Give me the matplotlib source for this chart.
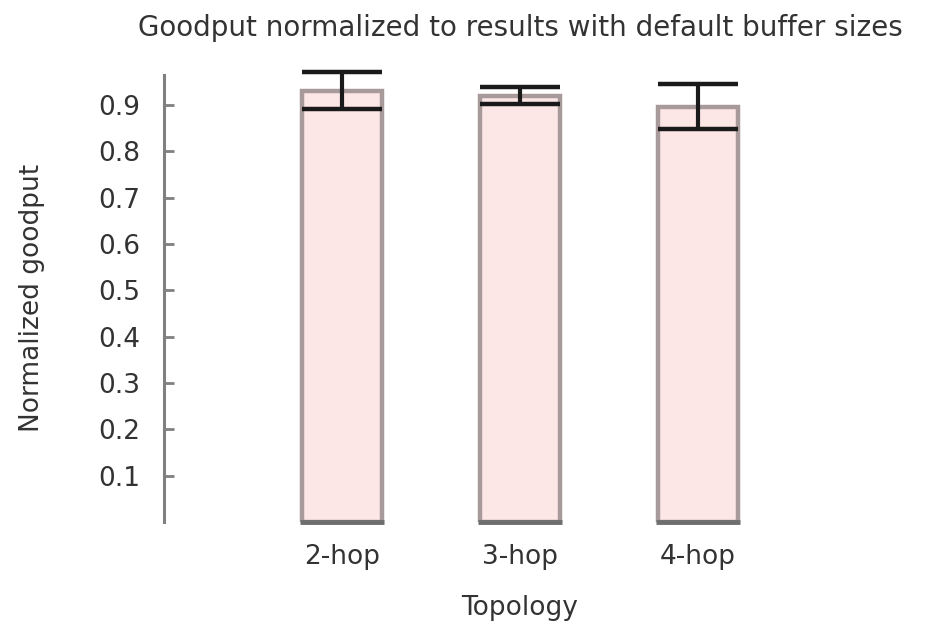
import matplotlib
matplotlib.use("Agg")
import matplotlib.pyplot as plt
import numpy as np

categories = ["2-hop", "3-hop", "4-hop"]
values = [0.931, 0.920, 0.896]
errors = [0.039, 0.019, 0.049]
yticks = [0.1, 0.2, 0.3, 0.4, 0.5, 0.6, 0.7, 0.8, 0.9]

fig = plt.figure(figsize=(9.26, 6.23), dpi=100)
ax = fig.add_axes([0.177, 0.162, 0.769, 0.718])

x = np.arange(len(categories))
w = 0.45
ax.bar(x, values, width=w, color="#fde6e6", edgecolor="#a89a9a", linewidth=3.2, zorder=2)
ax.hlines([0] * len(x), x - w / 2 - 0.01, x + w / 2 + 0.01, color="#6e6e6e", linewidth=3.5,
          zorder=3, clip_on=False)
eb = ax.errorbar(x, values, yerr=errors, fmt="none", ecolor="#1a1a1a", elinewidth=3,
                 capsize=29, capthick=3.2, zorder=4)
for child in eb.get_children():
    child.set_clip_on(False)

ax.set_xlim(-1, 3)
ax.set_ylim(0, 0.965)
ax.set_yticks(yticks)
ax.set_yticklabels([f"{v:.1f}" for v in yticks], fontsize=19, color="#333333")
ax.set_xticks(x)
ax.set_xticklabels(categories, fontsize=19, color="#333333")
ax.tick_params(axis="y", direction="in", length=7, width=2, color="#808080", pad=17)
ax.tick_params(axis="x", length=0, pad=16)

for s in ["top", "right", "bottom"]:
    ax.spines[s].set_visible(False)
ax.spines["left"].set_color("#808080")
ax.spines["left"].set_linewidth(2.2)

ax.set_ylabel("Normalized goodput", fontsize=19, color="#333333")
ax.yaxis.set_label_coords(-0.167, 0.5)
ax.set_xlabel("Topology", fontsize=19, color="#333333")
ax.xaxis.set_label_coords(0.5, -0.163)
fig.text(0.5616, 0.955, "Goodput normalized to results with default buffer sizes",
         ha="center", va="center", fontsize=20, color="#333333")

fig.savefig("out.png", dpi=100)
